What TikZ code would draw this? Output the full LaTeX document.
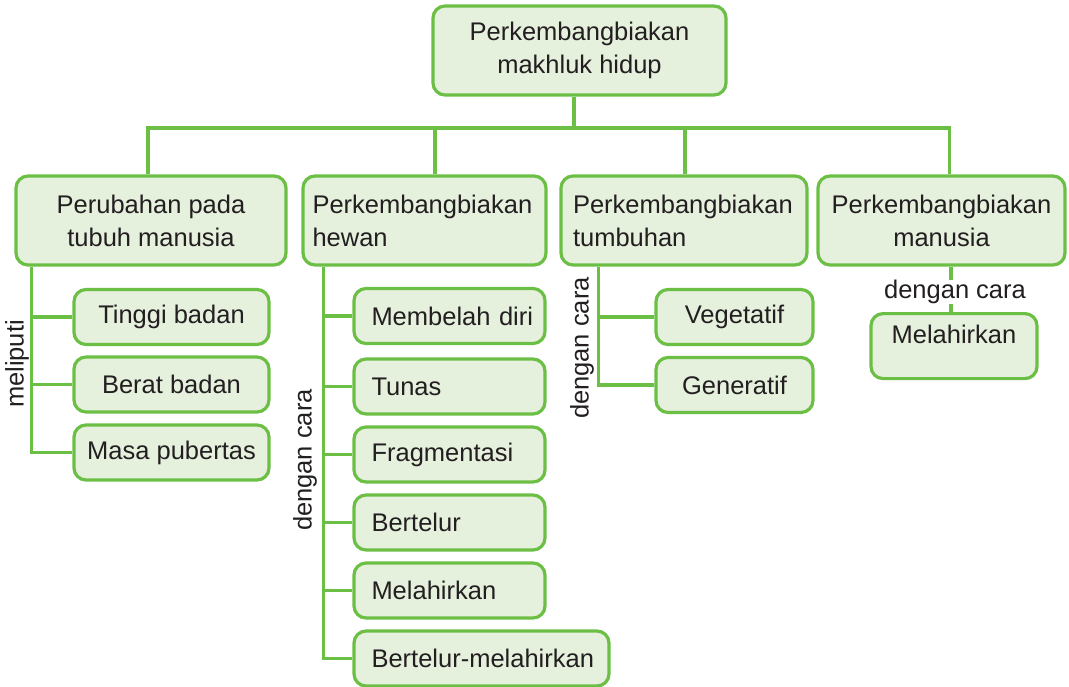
\documentclass[tikz,border=0pt]{standalone}
\usepackage{fontspec}
\setmainfont{Liberation Sans}
\usepackage{tikz}
\usetikzlibrary{positioning}

\definecolor{leafline}{RGB}{108,191,69}
\definecolor{leaffill}{RGB}{229,240,221}
\definecolor{ink}{RGB}{35,31,32}

\begin{document}
\begin{tikzpicture}[x=1pt, y=-1pt,
    box/.style={draw=leafline, fill=leaffill, line width=3.2pt, rounded corners=12pt,
                text=ink, font=\fontsize{25.5}{33}\selectfont, inner sep=0pt},
    kid/.style={box, minimum height=55pt},
    link/.style={draw=leafline, line width=3.2pt},
    side/.style={text=ink, font=\fontsize{25.5}{30}\selectfont, inner sep=1pt}]
    \useasboundingbox (0,0) rectangle (1069,686);

    % top and second row
    \node[box, minimum width=293pt, minimum height=89pt, align=center] (top) at (579.5,50.5)
        {Perkembangbiakan\\makhluk hidup};
    \node[box, minimum width=270pt, minimum height=89pt, align=center] (ubah) at (151,220.5)
        {Perubahan pada\\tubuh manusia};
    \node[box, minimum width=243pt, minimum height=89pt, text width=224pt, align=left] (hewan) at (424.5,220.5)
        {Perkembangbiakan\\hewan};
    \node[box, minimum width=246pt, minimum height=89pt, text width=222pt, align=left] (tumb) at (684,220.5)
        {Perkembangbiakan\\tumbuhan};
    \node[box, minimum width=247pt, minimum height=89pt, align=center] (manu) at (941.5,220.5)
        {Perkembangbiakan\\manusia};

    \coordinate (bus) at (574,128);
    \draw[link] (top.south -| bus) -- (bus);
    \draw[link] ([xshift=-3pt]ubah.north) |- (bus) -| ([xshift=8pt]manu.north);
    \draw[link] ([xshift=10.5pt]hewan.north) -- ([xshift=10.5pt]hewan.north |- bus);
    \draw[link] ([xshift=1pt]tumb.north) -- ([xshift=1pt]tumb.north |- bus);

    % perubahan pada tubuh manusia
    \node[kid, minimum width=195pt] (tinggi) at (171.5,317) {Tinggi badan};
    \node[kid, minimum width=195pt] (berat) at (171.5,384.5) {Berat badan};
    \node[kid, minimum width=195pt] (puber) at (171.5,452.5) {Masa pubertas};
    \foreach \k in {tinggi,berat,puber}
        \draw[link] ([xshift=17pt]ubah.south west) |- (\k.west);
    \node[side, rotate=90] (meliputi) at (17,364) {meliputi};

    % perkembangbiakan hewan
    \node[kid, minimum width=191pt, text width=170pt, align=left] (belah) at (449.5,316) {\hspace*{7pt}Membelah diri};
    \node[kid, minimum width=191pt, text width=170pt, align=left] (tunas) at (449.5,386.5) {\hspace*{7pt}Tunas};
    \node[kid, minimum width=191pt, text width=170pt, align=left] (frag) at (449.5,454.5) {\hspace*{7pt}Fragmentasi};
    \node[kid, minimum width=191pt, text width=170pt, align=left] (telur) at (449.5,522.5) {\hspace*{7pt}Bertelur};
    \node[kid, minimum width=191pt, text width=170pt, align=left] (lahir) at (449.5,590.5) {\hspace*{7pt}Melahirkan};
    \node[kid, minimum width=255pt, text width=234pt, align=left] (ovovi) at (481.5,658.5) {\hspace*{7pt}Bertelur-melahirkan};
    \foreach \k in {belah,tunas,frag,telur,lahir,ovovi}
        \draw[link] ([xshift=22pt]hewan.south west) |- (\k.west);
    \node[side, rotate=90] (caraH) at (305,460) {dengan cara};

    % perkembangbiakan tumbuhan
    \node[kid, minimum width=157pt] (veg) at (734.5,317) {Vegetatif};
    \node[kid, minimum width=157pt] (gen) at (734.5,385) {Generatif};
    \foreach \k in {veg,gen}
        \draw[link] ([xshift=39pt]tumb.south west) |- (\k.west);
    \node[side, rotate=90] (caraT) at (582,348) {dengan cara};

    % perkembangbiakan manusia
    \node[box, anchor=north, minimum width=166pt, text height=30pt, text depth=35pt] (lahirM) at (954,312) {Melahirkan};
    \draw[link] ([xshift=9.5pt]manu.south) -- ([xshift=9.5pt]manu.south |- lahirM.north);
    \node[side, fill=white, inner sep=0pt] (caraM) at (955,292) {dengan cara};
\end{tikzpicture}
\end{document}
